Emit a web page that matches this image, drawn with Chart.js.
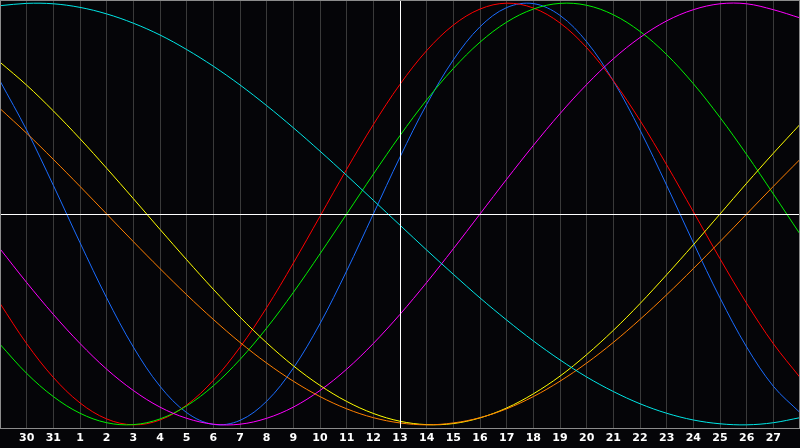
<!DOCTYPE html>
<html>
<head>
<meta charset="utf-8">
<script src="https://cdn.jsdelivr.net/npm/chart.js@4/dist/chart.umd.min.js"></script>
<style>
html,body{margin:0;padding:0;background:#050508;overflow:hidden;}
canvas{display:block;}
</style>
</head>
<body>
<canvas id="c" width="800" height="448"></canvas>
<script>
// Day labels (first and last sit on the plot edges and are not printed)
const days = ['29','30','31','1','2','3','4','5','6','7','8','9','10','11','12','13','14','15','16','17','18','19','20','21','22','23','24','25','26','27','28'];
const todayIndex = 15;

// Series values (-1 .. 1)
const physical = [0.631,0.398,0.136,-0.136,-0.398,-0.631,-0.817,-0.942,-0.998,-0.979,-0.888,-0.731,-0.520,-0.270,0,0.270,0.520,0.731,0.888,0.979,0.998,0.942,0.817,0.631,0.398,0.136,-0.136,-0.398,-0.631,-0.817,-0.942];
const emotional = [-0.424,-0.615,-0.775,-0.896,-0.972,-1.000,-0.977,-0.906,-0.789,-0.632,-0.444,-0.233,-0.011,0.212,0.424,0.615,0.775,0.896,0.972,1.000,0.977,0.906,0.789,0.632,0.444,0.233,0.011,-0.212,-0.424,-0.615,-0.775];
const intellectual = [-0.618,-0.756,-0.866,-0.945,-0.990,-0.999,-0.972,-0.910,-0.815,-0.690,-0.541,-0.372,-0.189,0,0.189,0.372,0.541,0.690,0.815,0.910,0.972,0.999,0.990,0.945,0.866,0.756,0.618,0.458,0.282,0.095,-0.095];
const intuitive = [-0.165,-0.325,-0.476,-0.614,-0.736,-0.837,-0.916,-0.969,-0.997,-0.997,-0.969,-0.916,-0.837,-0.736,-0.614,-0.476,-0.325,-0.165,0,0.165,0.325,0.476,0.614,0.736,0.837,0.916,0.969,0.997,0.997,0.969,0.930];
const aesthetic = [0.720,0.611,0.489,0.357,0.217,0.073,-0.073,-0.217,-0.357,-0.489,-0.611,-0.720,-0.813,-0.889,-0.946,-0.983,-0.999,-0.994,-0.967,-0.920,-0.853,-0.769,-0.667,-0.552,-0.425,-0.288,-0.146,0,0.146,0.288,0.425];
const awareness = [0.500,0.383,0.259,0.131,0,-0.131,-0.259,-0.383,-0.500,-0.609,-0.707,-0.793,-0.866,-0.924,-0.966,-0.991,-1.000,-0.991,-0.966,-0.924,-0.866,-0.793,-0.707,-0.609,-0.500,-0.383,-0.259,-0.131,0,0.131,0.259];
const spiritual = [0.988,0.999,0.997,0.980,0.949,0.905,0.849,0.780,0.701,0.612,0.514,0.409,0.298,0.183,0.065,-0.053,-0.171,-0.286,-0.398,-0.503,-0.602,-0.692,-0.773,-0.842,-0.900,-0.945,-0.977,-0.995,-1.000,-0.990,-0.966];

function ds(label, data, color){
  return {label, data, borderColor: color, borderWidth: 1, pointRadius: 0, pointHoverRadius: 0, pointBorderWidth: 0, fill: false, tension: 0.35};
}

const frameAndToday = {
  id: 'frameAndToday',
  afterDatasetsDraw(chart){
    const {ctx, chartArea: a, scales} = chart;
    ctx.save();
    ctx.lineWidth = 1;
    ctx.strokeStyle = '#ffffff';
    const y0 = Math.round(scales.y.getPixelForValue(0)) + 0.5;
    const xt = Math.round(scales.x.getPixelForValue(todayIndex)) + 0.5;
    ctx.beginPath();
    ctx.moveTo(a.left, y0); ctx.lineTo(a.right, y0);
    ctx.moveTo(xt, a.top); ctx.lineTo(xt, a.bottom);
    ctx.stroke();
    ctx.strokeStyle = '#8c8c8c';
    ctx.strokeRect(a.left + 0.5, a.top + 0.5, a.right - a.left - 1, a.bottom - a.top);
    ctx.restore();
  }
};

new Chart(document.getElementById('c'), {
  type: 'line',
  data: {
    labels: days,
    datasets: [
      ds('Spiritual', spiritual, '#00e6e6'),
      ds('Awareness', awareness, '#ff7f00'),
      ds('Aesthetic', aesthetic, '#ffff00'),
      ds('Intuitive', intuitive, '#ff00ff'),
      ds('Intellectual', intellectual, '#00f000'),
      ds('Emotional', emotional, '#ff0000'),
      ds('Physical', physical, '#1a6cff')
    ]
  },
  options: {
    responsive: false,
    devicePixelRatio: 1,
    animation: false,
    events: [],
    clip: false,
    layout: {autoPadding: false, padding: 0},
    plugins: {legend: {display: false}, tooltip: {enabled: false}, title: {display: false}},
    scales: {
      x: {
        type: 'category',
        offset: false,
        grid: {color: '#3a3a3a', lineWidth: 1, drawTicks: false},
        border: {display: false},
        ticks: {
          autoSkip: false, maxRotation: 0, minRotation: 0, padding: 0,
          color: '#ffffff',
          font: {family: 'DejaVu Sans', size: 11, weight: 'bold', lineHeight: '20px'},
          callback: function(v, i){ return (i === 0 || i === days.length - 1) ? '' : days[i]; }
        }
      },
      y: {
        display: false,
        min: -1.015,
        max: 1.015
      }
    }
  },
  plugins: [{
    id: 'bg',
    beforeDraw(chart){
      const ctx = chart.ctx;
      ctx.save();
      ctx.fillStyle = '#050508';
      ctx.fillRect(0, 0, chart.width, chart.height);
      ctx.restore();
    }
  }, frameAndToday]
});
</script>
</body>
</html>
